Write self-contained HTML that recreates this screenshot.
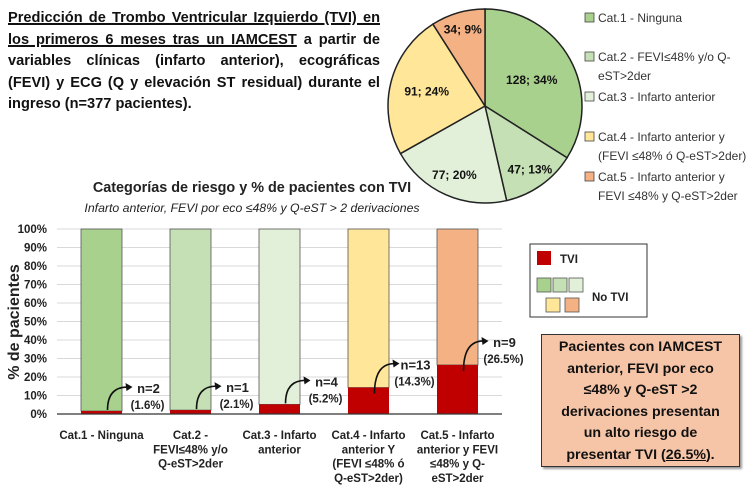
<!DOCTYPE html>
<html><head><meta charset="utf-8">
<style>
body{margin:0;width:750px;height:500px;background:#fff;overflow:hidden;position:relative;font-family:"Liberation Sans",sans-serif;}
#title{position:absolute;left:8px;top:8px;width:372px;font-size:14.6px;font-weight:bold;line-height:21.6px;text-align:justify;text-align-last:left;color:#111;}
#title u{text-decoration-thickness:1.5px;}
svg{position:absolute;left:0;top:0;}
#callout{position:absolute;left:541px;top:334px;width:199px;height:133px;background:#f6c4a6;border:1.5px solid #333;box-shadow:2px 2px 2px #999;box-sizing:border-box;font-size:14.2px;font-weight:bold;line-height:21.6px;text-align:center;padding:2px 0 0;color:#111;white-space:nowrap;}
</style></head><body>
<div id="title"><u>Predicción de Trombo Ventricular Izquierdo (TVI) en los primeros 6 meses tras un IAMCEST</u> a partir de variables clínicas (infarto anterior), ecográficas (FEVI) y ECG (Q y elevación ST residual) durante el ingreso (n=377 pacientes).</div>
<svg id="chart" width="750" height="500"></svg>
<div id="callout">Pacientes con IAMCEST<br>anterior, FEVI por eco<br>≤48% y Q-eST &gt;2<br>derivaciones presentan<br>un alto riesgo de<br>presentar TVI (<u>26.5%</u>).</div>
<script>
const pieValues=[128,47,77,91,34];
const pieLabels=["128; 34%","47; 13%","77; 20%","91; 24%","34; 9%"];
const colors=["#a9d18e","#c5e0b4","#e2f0d9","#ffe699","#f4b183"];
const legendLabels=[["Cat.1 - Ninguna"],["Cat.2 - FEVI≤48% y/o Q-","eST>2der"],["Cat.3 - Infarto anterior"],["Cat.4 - Infarto anterior y","(FEVI ≤48% ó Q-eST>2der)"],["Cat.5 - Infarto anterior y","FEVI ≤48% y Q-eST>2der"]];
const categories=[["Cat.1 - Ninguna"],["Cat.2 -","FEVI≤48% y/o","Q-eST>2der"],["Cat.3 - Infarto","anterior"],["Cat.4 - Infarto","anterior Y","(FEVI ≤48% ó","Q-eST>2der)"],["Cat.5 - Infarto","anterior y FEVI","≤48% y Q-","eST>2der"]];
const tviPct=[1.6,2.1,5.2,14.3,26.5];
const tviN=[2,1,4,13,9];
const yTicks=[0,10,20,30,40,50,60,70,80,90,100];
const labelRadiusFactor=[0.55,0.8,0.78,0.62,0.82];

const svg=document.getElementById('chart');
const NS="http://www.w3.org/2000/svg";
function mk(tag,attrs,parent){const e=document.createElementNS(NS,tag);for(const k in attrs)e.setAttribute(k,attrs[k]);(parent||svg).appendChild(e);return e;}
function txt(x,y,s,attrs,parent){const t=mk('text',Object.assign({x:x,y:y},attrs||{}),parent);t.textContent=s;return t;}

// Pie
const cx=485,cy=106,r=97;
const total=pieValues.reduce((a,b)=>a+b,0);
let ang=0;
pieValues.forEach((v,i)=>{
  const a0=ang,a1=ang+v/total*2*Math.PI;ang=a1;
  const x0=cx+r*Math.sin(a0),y0=cy-r*Math.cos(a0),x1=cx+r*Math.sin(a1),y1=cy-r*Math.cos(a1);
  const large=(a1-a0)>Math.PI?1:0;
  const p=mk('path',{d:`M${cx},${cy}L${x0},${y0}A${r},${r} 0 ${large} 1 ${x1},${y1}Z`,fill:colors[i],stroke:'#222','stroke-width':1.5});
  
  
  const am=(a0+a1)/2,lr=r*labelRadiusFactor[i];
  const t=txt(cx+lr*Math.sin(am),cy-lr*Math.cos(am)+4,pieLabels[i],{'font-size':12,'font-weight':'bold','text-anchor':'middle',fill:'#111'});
  
  
});

// Pie legend
const legY=[18,57,97,137,177];
legendLabels.forEach((lines,i)=>{
  const g=mk('g',{});
  
  
  mk('rect',{x:585,y:legY[i]-5,width:9,height:9,fill:colors[i],stroke:'#444','stroke-width':0.8},g);
  lines.forEach((l,j)=>txt(598,legY[i]+4+j*19,l,{'font-size':12,fill:'#333'},g));
});

// Bar chart titles
let t=txt(252,192,"Categorías de riesgo y % de pacientes con TVI",{'font-size':14.4,'font-weight':'bold','text-anchor':'middle',fill:'#222'});

t=txt(252,212,"Infarto anterior, FEVI por eco ≤48% y Q-eST > 2 derivaciones",{'font-size':12.3,'font-style':'italic','text-anchor':'middle',fill:'#222'});


// Axes
const y0=414,y100=229,xL=57,xR=502;
const yS=v=>y0-(y0-y100)*v/100;
const bandW=(xR-xL)/categories.length;
const xC=i=>xL+bandW*(i+0.5);
const barW=41;
yTicks.forEach(v=>{
  if(v>0){const l=mk('line',{x1:xL,x2:xR,y1:yS(v),y2:yS(v),stroke:'#d9d9d9','stroke-width':1});
  }
  const tt=txt(47,yS(v)+4,v+'%',{'font-size':11.5,'font-weight':'bold','text-anchor':'end',fill:'#222'});
  
});
t=txt(0,0,"% de pacientes",{'font-size':16,'font-weight':'bold','text-anchor':'middle',fill:'#222',transform:'translate(19,322) rotate(-90)'});


categories.forEach((lines,i)=>{
  const x=xC(i)-barW/2;
  const b=mk('rect',{x:x,y:y100,width:barW,height:yS(tviPct[i])-y100,fill:colors[i],stroke:'#555','stroke-width':0.8});
  
  const rb=mk('rect',{x:x,y:yS(tviPct[i]),width:barW,height:y0-yS(tviPct[i]),fill:'#c00000'});
  
  lines.forEach((l,j)=>{const tl=txt(xC(i),y0+25+j*14.3,l,{'font-size':11.5,'font-weight':'bold','text-anchor':'middle',fill:'#222'});
    });
  const ax=xC(i)+6;
  const sy=yS(tviPct[i])+(tviPct[i]>10?6:-1);
  const ex=ax+20,ey=yS(tviPct[i])-24;
  const arr=mk('path',{d:`M${ax},${sy}Q${ax},${ey} ${ex},${ey}`,fill:'none',stroke:'#111','stroke-width':1.6});
  
  const hd=mk('path',{d:`M${ex+5},${ey}L${ex-2},${ey-4}L${ex-1},${ey+4}Z`,fill:'#111'});
  
  const n=txt(ex+21,ey+6,'n='+tviN[i],{'font-size':13,'font-weight':'bold','text-anchor':'middle',fill:'#222'});
  
  const p=txt(ex+20,ey+22,'('+tviPct[i]+'%)',{'font-size':11.5,'font-weight':'bold','text-anchor':'middle',fill:'#222'});
  
});
const ax=mk('line',{x1:xL,x2:xR,y1:y0,y2:y0,stroke:'#333','stroke-width':1.2});


// TVI legend
const lg=mk('g',{});

mk('rect',{x:530,y:244,width:117,height:73,fill:'#fff',stroke:'#333','stroke-width':1},lg);
mk('rect',{x:537,y:251,width:14,height:14,fill:'#c00000'},lg);
const tv=txt(560,263,'TVI',{'font-size':11.5,'font-weight':'bold',fill:'#222'});

[[537,278,0],[553,278,1],[569,278,2],[546,298,3],[565,298,4]].forEach(([x,y,c])=>{
  const s=mk('rect',{x:x,y:y,width:14,height:14,fill:colors[c],stroke:'#555','stroke-width':0.8});
  
});
const nt=txt(592,301,'No TVI',{'font-size':11.5,'font-weight':'bold',fill:'#222'});

</script>
</body></html>
